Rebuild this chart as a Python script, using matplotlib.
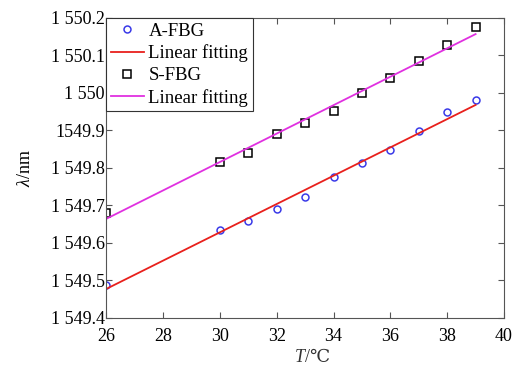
import matplotlib
matplotlib.use("Agg")
import matplotlib.pyplot as plt

plt.rcParams["font.family"] = ["Liberation Serif", "DejaVu Serif"]
plt.rcParams["mathtext.fontset"] = "custom"
plt.rcParams["mathtext.it"] = "Liberation Serif:italic"
plt.rcParams["mathtext.rm"] = "Liberation Serif"

# 温度 (℃)
temp = [26, 30, 31, 32, 33, 34, 35, 36, 37, 38, 39]
# A-FBG 中心波长 (nm)
a_fbg = [1549.488, 1549.635, 1549.659, 1549.691, 1549.723, 1549.775,
         1549.812, 1549.847, 1549.899, 1549.950, 1549.980]
# S-FBG 中心波长 (nm)
s_fbg = [1549.681, 1549.817, 1549.840, 1549.890, 1549.919, 1549.952,
         1550.000, 1550.039, 1550.086, 1550.128, 1550.177]
# 拟合直线端点
fit_x = [26, 39]
a_fit = [1549.477, 1549.968]
s_fit = [1549.664, 1550.157]

yticks = [1549.4, 1549.5, 1549.6, 1549.7, 1549.8, 1549.9, 1550.0, 1550.1, 1550.2]
yticklabels = ["1 549.4", "1 549.5", "1 549.6", "1 549.7", "1 549.8",
               "1549.9", "1 550", "1 550.1", "1 550.2"]
xticks = [26, 28, 30, 32, 34, 36, 38, 40]

fig = plt.figure(figsize=(5.18, 3.67), dpi=100)
ax = fig.add_axes([0.205, 0.134, 0.768, 0.817])

ax.plot(temp, a_fbg, "o", mfc="none", mec="#3a3ae8", ms=5, mew=1.1, label="A-FBG")
ax.plot(fit_x, a_fit, "-", color="#e8201c", lw=1.3, label="Linear fitting")
ax.plot(temp, s_fbg, "s", mfc="none", mec="black", ms=5.5, mew=1.1, label="S-FBG")
ax.plot(fit_x, s_fit, "-", color="#e030e0", lw=1.3, label="Linear fitting")

ax.set_xlim(26, 40)
ax.set_ylim(1549.4, 1550.2)
ax.set_xticks(xticks)
ax.set_yticks(yticks)
ax.set_yticklabels(yticklabels)
ax.tick_params(direction="in", top=True, right=True, labelsize=13, length=4,
               color="#555555")
ax.tick_params(axis="x", pad=7)
ax.tick_params(axis="y", pad=1)
for s in ax.spines.values():
    s.set_color("#555555")

# x 轴标签: 斜体 T + "/℃"
ax.text(0.5, -0.105, "T", transform=ax.transAxes, ha="right", va="top",
        fontsize=13, style="italic", color="#333333")
ax.text(0.5, -0.105, "/℃", transform=ax.transAxes, ha="left", va="top",
        fontsize=13, family=["Liberation Serif", "DejaVu Serif"], color="#333333")
ax.set_ylabel("$\\lambda$/nm", fontsize=13, labelpad=12)

leg = ax.legend(loc="upper left", fontsize=13.5, fancybox=False, edgecolor="#333333",
                borderaxespad=0, handlelength=1.75, handletextpad=0.25,
                borderpad=0.25, labelspacing=0.25, framealpha=1)
leg.get_frame().set_linewidth(0.8)

fig.savefig("out.png", dpi=100)
